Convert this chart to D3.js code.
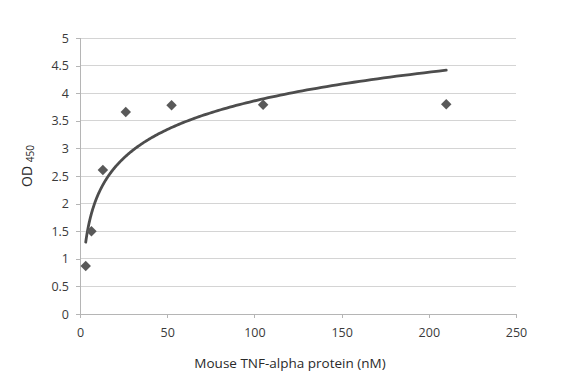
<!DOCTYPE html>
<html><head><meta charset="utf-8">
<script src="https://cdn.jsdelivr.net/npm/d3@7"></script>
<style>body{margin:0;background:#fff}text{font-family:"Open Sans","Liberation Sans",sans-serif;fill:#333}</style>
</head><body><svg id="c" width="582" height="382"></svg>
<script>
const concentrations = [3.28, 6.56, 13.125, 26.25, 52.5, 105, 210];
const od450 = [0.87, 1.50, 2.61, 3.66, 3.78, 3.79, 3.80];
const xTicks = [0, 50, 100, 150, 200, 250];
const yTicks = [0, 0.5, 1, 1.5, 2, 2.5, 3, 3.5, 4, 4.5, 5];

const svg = d3.select("#c");
const x = d3.scaleLinear().domain([0, 250]).range([80, 516]);
const y = d3.scaleLinear().domain([0, 5]).range([314, 38]);

// gridlines
svg.append("g").selectAll("line").data(yTicks.filter(d => d > 0)).join("line")
  .attr("x1", x(0)).attr("x2", x(250)).attr("y1", d => y(d)).attr("y2", d => y(d))
  .attr("stroke", "#d4d4d4").attr("stroke-width", 1).attr("shape-rendering", "crispEdges");

const yAxis = d3.axisLeft(y).tickValues(yTicks).tickSize(4).tickPadding(7).tickFormat(d => d);
const gy = svg.append("g").attr("transform", `translate(${x(0)},0)`).call(yAxis);
gy.selectAll("line,path").attr("stroke", "#b5b5b5").attr("shape-rendering", "crispEdges");
gy.select("path").attr("d", `M-4,${y(5)}H0V${y(0)}`);
gy.selectAll("text").attr("font-size", 12.5).style("fill", "#3a3a3a");

const xAxis = d3.axisBottom(x).tickValues(xTicks).tickSize(4).tickPadding(10).tickFormat(d => d);
const gx = svg.append("g").attr("transform", `translate(0,${y(0)})`).call(xAxis);
gx.selectAll("line,path").attr("stroke", "#b5b5b5").attr("shape-rendering", "crispEdges");
gx.select("path").attr("d", `M${x(0)},0H${x(250)}V4`);
gx.selectAll("text").attr("font-size", 12.5).style("fill", "#3a3a3a");

// logarithmic trendline fitted by least squares on ln(x)
const lx = concentrations.map(Math.log);
const mx = d3.mean(lx), my = d3.mean(od450);
const a = d3.sum(lx, (v, i) => (v - mx) * (od450[i] - my)) / d3.sum(lx, v => (v - mx) ** 2);
const b = my - a * mx;
const xmin = d3.min(concentrations), xmax = d3.max(concentrations);
const curvePts = d3.range(0, 201).map(i => {
  const c = xmin * Math.pow(xmax / xmin, i / 200);
  return [c, a * Math.log(c) + b];
});
svg.append("path").datum(curvePts)
  .attr("d", d3.line().x(d => x(d[0])).y(d => y(d[1])))
  .attr("fill", "none").attr("stroke", "#4d4d4d").attr("stroke-width", 2.8).attr("stroke-linecap", "round");

// diamond markers
svg.append("g").selectAll("path").data(concentrations).join("path")
  .attr("transform", (d, i) => `translate(${x(d)},${y(od450[i])}) rotate(45)`)
  .attr("d", "M-3.7,-3.7H3.7V3.7H-3.7Z")
  .attr("fill", "#595959");

// axis titles
svg.append("text").attr("x", 290).attr("y", 368).attr("text-anchor", "middle")
  .attr("font-size", 13.5).style("fill", "#2a2a2a").text("Mouse TNF-alpha protein (nM)");
const yl = svg.append("text").attr("transform", "translate(32,166) rotate(-90)")
  .attr("text-anchor", "middle").attr("font-size", 14).style("fill", "#2a2a2a");
yl.append("tspan").text("OD ");
yl.append("tspan").attr("font-size", 10).attr("dy", 2).text("450");
</script></body></html>
